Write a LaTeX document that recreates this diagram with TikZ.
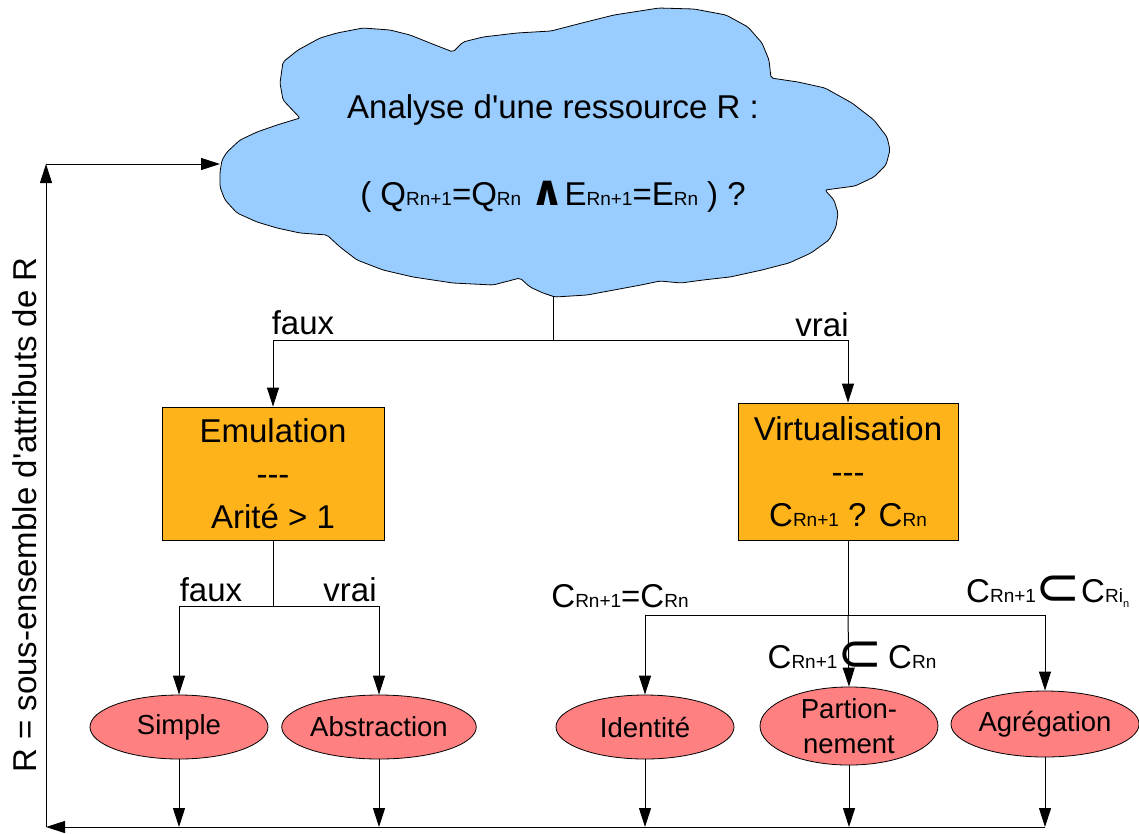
\documentclass[tikz,border=0pt]{standalone}
\usepackage{fontspec}
\setmainfont[Ligatures=TeXOff]{Liberation Sans}
\newfontfamily\djv{DejaVu Sans}
\usetikzlibrary{arrows.meta,shapes.geometric}
\definecolor{cloudblue}{HTML}{99CCFF}
\definecolor{boxorange}{HTML}{FFB31A}
\definecolor{leafred}{HTML}{FF8080}
\newcommand{\sbs}[1]{{\fontsize{19}{19}\selectfont #1}}
\newcommand{\andsym}{\smash{{\djv\bfseries\fontsize{42}{42}\selectfont ∧}}}
\newcommand{\subsym}{\smash{\raisebox{-3pt}{\djv\fontsize{54}{54}\selectfont ⊂}}}
\begin{document}
\begin{tikzpicture}[x=1pt,y=-1pt,
  lbl/.style={font=\fontsize{33}{40}\selectfont, inner sep=0pt},
  box/.style={draw=black, fill=boxorange, align=center, inner sep=0pt, line width=0.8pt,
              font=\fontsize{33}{43}\selectfont},
  leaf/.style={ellipse, draw=black, fill=leafred, minimum width=178pt, minimum height=64pt,
               inner sep=0pt, align=center, line width=0.8pt, font=\fontsize{27.5}{35}\selectfont},
  conn/.style={line width=1pt},
  arr/.style={conn, -{Triangle[length=19pt,width=12pt]}},
]
\useasboundingbox (0,0) rectangle (1139,833);
% cloud
\filldraw[fill=cloudblue, draw=black, line width=0.8pt, rounded corners=2pt]
 (220,172) -- (222,160) -- (227,152) -- (240,140) -- (257,132) -- (277,125) -- (300,118)
 -- (283,100) -- (280,83) -- (283,62) -- (298,50) -- (320,38) -- (337,33) -- (363,28)
 -- (390,30) -- (410,35) -- (430,43) -- (453,52)
 -- (463,42) -- (483,37) -- (517,33) -- (551,31)
 -- (582,23) -- (614,15) -- (659,8) -- (694,9) -- (726,15) -- (748,27) -- (762,43)
 -- (769,60) -- (771,78)
 -- (798,82) -- (825,88) -- (852,103) -- (874,120) -- (887,137) -- (890,150) -- (886,165)
 -- (874,177) -- (855,186) -- (825,190)
 -- (834,200) -- (838,213) -- (836,227) -- (829,240) -- (811,253) -- (789,263)
 -- (762,270) -- (730,277) -- (703,280) -- (681,283) -- (660,281)
 -- (641,285) -- (614,290) -- (587,295) -- (555,297) -- (543,293) -- (530,287) -- (520,278)
 -- (493,285) -- (453,283) -- (413,277) -- (383,270) -- (357,260) -- (340,247) -- (327,235)
 -- (300,233) -- (277,228) -- (257,222) -- (237,213) -- (225,200) -- (220,187) -- cycle;
\coordinate (cS) at (553,297);
\coordinate (cW) at (220,164);
\node[lbl] (ctitle) at (553,110) {Analyse d'une ressource R :};
\node[lbl] (cform) at (553,197) {( Q\sbs{Rn+1}=Q\sbs{Rn} \andsym E\sbs{Rn+1}=E\sbs{Rn} ) ?};
% boxes
\node[box, minimum width=222pt, minimum height=133pt] (emul) at (273,473.5) {Emulation\\---\\Arité > 1};
\node[box, minimum width=220pt, minimum height=137pt] (virt) at (848,471.5) {Virtualisation\\---\\C\sbs{Rn+1} ? C\sbs{Rn}};
% leaves
\node[leaf] (simple) at (179,727) {Simple};
\node[leaf] (abstr) at (379,727) {Abstraction};
\node[leaf] (ident) at (645,727) {Identité};
\node[leaf, minimum height=68pt] (part) at (849,726) {Partion-\\nement};
\node[leaf, minimum width=172pt, minimum height=66pt] (aggr) at (1045,724) {Agrégation};
% top branch
\draw[conn] (cS) -- ++(0,43) coordinate (j1);
\draw[arr] (j1) -| (emul.north);
\draw[arr] (j1) -| (virt.north);
\node[lbl] (lf1) at (303,323) {faux};
\node[lbl] (lv1) at (822,325) {vrai};
% emulation branch
\draw[conn] (emul.south) -- ++(0,66) coordinate (j2);
\draw[arr] (j2) -| (simple.north);
\draw[arr] (j2) -| (abstr.north);
\node[lbl] (lf2) at (211,590) {faux};
\node[lbl] (lv2) at (350,590) {vrai};
% virtualisation branch
\draw[conn] (virt.south) -- ++(0,75) coordinate (j3);
\draw[arr] (j3) -| (ident.north);
\draw[arr] (j3) -- (part.north);
\draw[arr] (j3) -| (aggr.north);
\node[lbl] (c1) at (620,596) {C\sbs{Rn+1}=C\sbs{Rn}};
\node[lbl] (c2) at (852,657) {C\sbs{Rn+1}\subsym\,C\sbs{Rn}};
\node[lbl, anchor=west] (c3) at (966,593) {C\sbs{Rn+1}\subsym C\sbs{Ri\raisebox{-5pt}{\fontsize{11}{11}\selectfont n}}};
% return loop
\coordinate (bl) at (46,827);
\coordinate (tl) at (46,164);
\foreach \n in {simple,abstr,ident,part,aggr}
  \draw[arr] (\n.south) -- (\n.south |- bl);
\draw[arr] (aggr.south |- bl) -- (bl);
\draw[arr] (bl) -- (tl);
\draw[arr] (tl) -- (cW);
\node[lbl, rotate=90] (side) at (25,515) {R = sous-ensemble d'attributs de R};
\end{tikzpicture}
\end{document}
